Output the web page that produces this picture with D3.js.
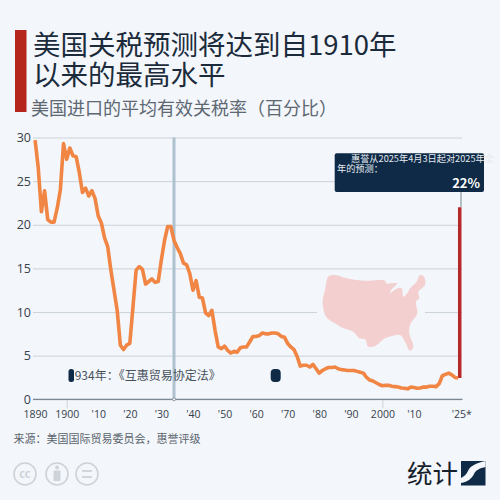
<!DOCTYPE html>
<html>
<head>
<meta charset="utf-8">
<script src="https://cdn.jsdelivr.net/npm/d3@7"></script>
<style>
  html, body { margin: 0; padding: 0; background: #f3f6fa; }
  svg { display: block; }
  text { font-family: "Noto Sans CJK SC", "Noto Sans", sans-serif; }
  .axis-num text { font-family: "Open Sans", "Noto Sans", sans-serif; }
</style>
</head>
<body>
<svg width="500" height="500"></svg>
<script>
const titleLines = ['美国关税预测将达到自1910年', '以来的最高水平'];
const subtitle = '美国进口的平均有效关税率（百分比）';
const sourceText = '来源：美国国际贸易委员会，惠誉评级';
const noteText = '1934年：《互惠贸易协定法》';
const forecastLines = ['惠誉从2025年4月3日起对2025年全', '年的预测：'];
const forecastLabel = '22%';

const startYear = 1890;
// one value a year 1890-2024
const tariffRate = [
  29.7, 26.5, 21.5, 23.9, 20.6, 20.3, 20.3, 21.9, 24, 29.3,
  27.5, 28.8, 27.9, 27.8, 26, 23.7, 24.2, 23.3, 23.9, 23,
  21, 20.2, 18.5, 17.5, 14.8, 12.5, 10.2, 6.2, 5.7, 6.2,
  6.4, 10.6, 14.8, 15.2, 14.9, 13.2, 13.5, 13.8, 13.4, 13.5,
  16, 18.2, 19.8, 19.8, 18.2, 17.4, 16.7, 15.6, 15.4, 14.4,
  12.5, 13.6, 11.7, 11.6, 9.9, 9.6, 10.2, 7.9, 6, 5.8,
  6.1, 5.6, 5.3, 5.5, 5.4, 5.9, 6, 6, 6.6, 7.2,
  7.2, 7.3, 7.6, 7.5, 7.5, 7.6, 7.6, 7.5, 7.2, 7.1,
  6.4, 6, 5.7, 4.9, 3.8, 3.9, 3.9, 3.7, 4, 3.5,
  3, 3.3, 3.5, 3.65, 3.65, 3.7, 3.5, 3.4, 3.35, 3.3,
  3.3, 3.3, 3.2, 3.1, 3, 2.5, 2.2, 2.1, 1.9, 1.7,
  1.55, 1.6, 1.6, 1.5, 1.45, 1.4, 1.3, 1.27, 1.2, 1.4,
  1.35, 1.27, 1.3, 1.4, 1.4, 1.5, 1.5, 1.45, 1.8, 2.7,
  2.85, 3, 2.8, 2.5, 2.45
];
const forecastValue = 22;
const forecastYear = 2024.5;
const markerYear = 1934;

const yTicks = [0, 5, 10, 15, 20, 25, 30];
const xTicks = [1890, 1900, 1910, 1920, 1930, 1940, 1950, 1960, 1970, 1980, 1990, 2000, 2010, 2025];
const xTickLabels = ['1890', '1900', "'10", "'20", "'30", "'40", "'50", "'60", "'70", "'80", "'90", '2000', "'10", "'25*"];
// the axis has 14 positions, 2020 has no label in the picture

const mapOutline = [
  [55, 50], [75, 45], [110, 55], [160, 62], [225, 62], [228, 70], [262, 70], [245, 88], [240, 100],
  [262, 85], [275, 85], [280, 110], [292, 100], [300, 85], [320, 65], [330, 45], [342, 50], [345, 75],
  [325, 95], [328, 115], [318, 125], [322, 160], [300, 195], [298, 220], [310, 262], [300, 272],
  [285, 245], [270, 225], [245, 228], [225, 235], [195, 258], [175, 260], [165, 238], [148, 235],
  [130, 215], [100, 205], [75, 190], [48, 170], [38, 125], [45, 90]
];

const navy = '#0e2a47';
const svg = d3.select('svg');

const x = d3.scaleLinear().domain([1890, 2025]).range([35.1, 461.3]);
const y = d3.scaleLinear().domain([0, 30]).range([399.3, 137.5]);

// header
svg.append('rect').attr('x', 15).attr('y', 30).attr('width', 11.5).attr('height', 82).attr('fill', '#b5251c');

svg.selectAll('.title').data(titleLines).enter().append('text')
  .attr('class', 'title')
  .attr('x', 33)
  .attr('y', (d, i) => 55 + i * 30)
  .attr('font-size', 27.5)
  .attr('fill', '#1b2b3b')
  .text(d => d);

svg.append('text').attr('x', 31).attr('y', 114.5)
  .attr('font-size', 18).attr('fill', '#5d6873').text(subtitle);

// grid
const grid = svg.append('g')
  .attr('class', 'axis-num')
  .attr('transform', 'translate(33, 0)')
  .call(d3.axisLeft(y).tickValues(yTicks).tickSize(-429).tickPadding(2));
grid.select('.domain').remove();
grid.selectAll('line').attr('stroke', '#cbd3da').attr('stroke-width', 1);
grid.selectAll('text').attr('font-size', 12.5).attr('fill', '#36414c');

// the map sits on a gap in the 10 line
svg.append('rect').attr('x', 317).attr('y', 306).attr('width', 108).attr('height', 12).attr('fill', '#f3f6fa');
svg.append('path')
  .attr('transform', 'translate(310, 260) scale(0.3333)')
  .attr('d', d3.line().curve(d3.curveCatmullRomClosed)(mapOutline))
  .attr('fill', '#f3cfcf');

// 1934 marker
svg.append('line')
  .attr('x1', x(markerYear)).attr('x2', x(markerYear))
  .attr('y1', y(30)).attr('y2', y(0))
  .attr('stroke', '#aec2d0').attr('stroke-width', 3);

// x axis
const xAxis = svg.append('g')
  .attr('class', 'axis-num')
  .attr('transform', `translate(0, ${y(0)})`)
  .call(d3.axisBottom(x).tickValues(xTicks).tickSize(0).tickPadding(11)
    .tickFormat(d => xTickLabels[xTicks.indexOf(d)]));
xAxis.select('.domain').remove();
xAxis.selectAll('text').attr('font-size', 10.5).attr('fill', '#36414c');
xAxis.selectAll('.tick').filter(d => d === 1900 || d === 2000).select('line')
  .attr('y2', 9).attr('stroke', '#cbd3da');

svg.append('line').attr('x1', 33).attr('x2', 462.5)
  .attr('y1', y(0)).attr('y2', y(0))
  .attr('stroke', '#7d8892').attr('stroke-width', 1.3);

svg.append('circle').attr('cx', x(markerYear)).attr('cy', y(0)).attr('r', 1.5)
  .attr('fill', '#f3f6fa').attr('stroke', '#7d8892').attr('stroke-width', 0.8);

// annotation, partly covered by the dark patches as in the picture
svg.append('text').attr('x', 68).attr('y', 379.5)
  .attr('font-size', 12).attr('fill', '#46515c').text(noteText);
svg.append('rect').attr('x', 68.5).attr('y', 369).attr('width', 5.5).attr('height', 13)
  .attr('rx', 2.5).attr('fill', navy);
svg.append('rect').attr('x', 270.7).attr('y', 369).attr('width', 10).attr('height', 13)
  .attr('rx', 4).attr('fill', navy);

// series
const years = tariffRate.map((d, i) => startYear + i);
const line = d3.line().x((d, i) => x(years[i])).y(d => y(d));

svg.append('path')
  .attr('d', `M${x(forecastYear)},${y(tariffRate[tariffRate.length - 1])}V${y(forecastValue)}`)
  .attr('stroke', '#b5282a').attr('stroke-width', 3.5).attr('fill', 'none');

svg.append('path')
  .attr('d', line(tariffRate))
  .attr('fill', 'none')
  .attr('stroke', '#f08544')
  .attr('stroke-width', 3.6)
  .attr('stroke-linejoin', 'round');

// forecast box
svg.append('line').attr('x1', 461).attr('x2', 461).attr('y1', 192).attr('y2', y(forecastValue))
  .attr('stroke', '#7d8892').attr('stroke-width', 1);
svg.append('rect').attr('x', 334.7).attr('y', 153.3).attr('width', 149.3).attr('height', 38.7)
  .attr('rx', 2).attr('fill', navy);
svg.selectAll('.forecast').data(forecastLines).enter().append('text')
  .attr('class', 'forecast')
  .attr('x', (d, i) => i === 0 ? 351 : 337)
  .attr('y', (d, i) => 161.5 + i * 10.5)
  .attr('font-size', 9.2)
  .attr('fill', '#e6ebf0')
  .text(d => d);
svg.append('text').attr('x', 480).attr('y', 188)
  .attr('text-anchor', 'end').attr('font-size', 13).attr('font-weight', 700)
  .attr('fill', '#fff').text(forecastLabel);

// footer
svg.append('text').attr('x', 13.5).attr('y', 443)
  .attr('font-size', 11).attr('fill', '#5a646e').text(sourceText);

const iconColor = '#cdd3d9';
const icons = svg.append('g').attr('fill', 'none').attr('stroke', iconColor).attr('stroke-width', 1.6);
[25, 57, 87].forEach(cx => icons.append('circle').attr('cx', cx).attr('cy', 474).attr('r', 11));
svg.append('text').attr('x', 25).attr('y', 478).attr('text-anchor', 'middle')
  .attr('font-size', 11).attr('font-weight', 700).attr('fill', iconColor).text('cc');
svg.append('circle').attr('cx', 57).attr('cy', 467.5).attr('r', 2).attr('fill', iconColor);
svg.append('rect').attr('x', 53.5).attr('y', 470.5).attr('width', 7).attr('height', 10.5).attr('rx', 1).attr('fill', iconColor);
[471, 477].forEach(ly => svg.append('line').attr('x1', 82).attr('x2', 92).attr('y1', ly).attr('y2', ly)
  .attr('stroke', iconColor).attr('stroke-width', 1.8));

svg.append('text').attr('x', 407).attr('y', 483)
  .attr('font-size', 25.5).attr('fill', '#16202c').text('统计');
svg.append('rect').attr('x', 461).attr('y', 461).attr('width', 24.5).attr('height', 24.5).attr('fill', navy);
svg.append('path')
  .attr('d', 'M485.5,461 C476,463 470,466 468,471 C466,475 463,477 461,478 L461,483 C468,482 472,478 474,474 C476,470 480,468 485.5,467 Z')
  .attr('fill', '#f3f6fa');
</script>
</body>
</html>
